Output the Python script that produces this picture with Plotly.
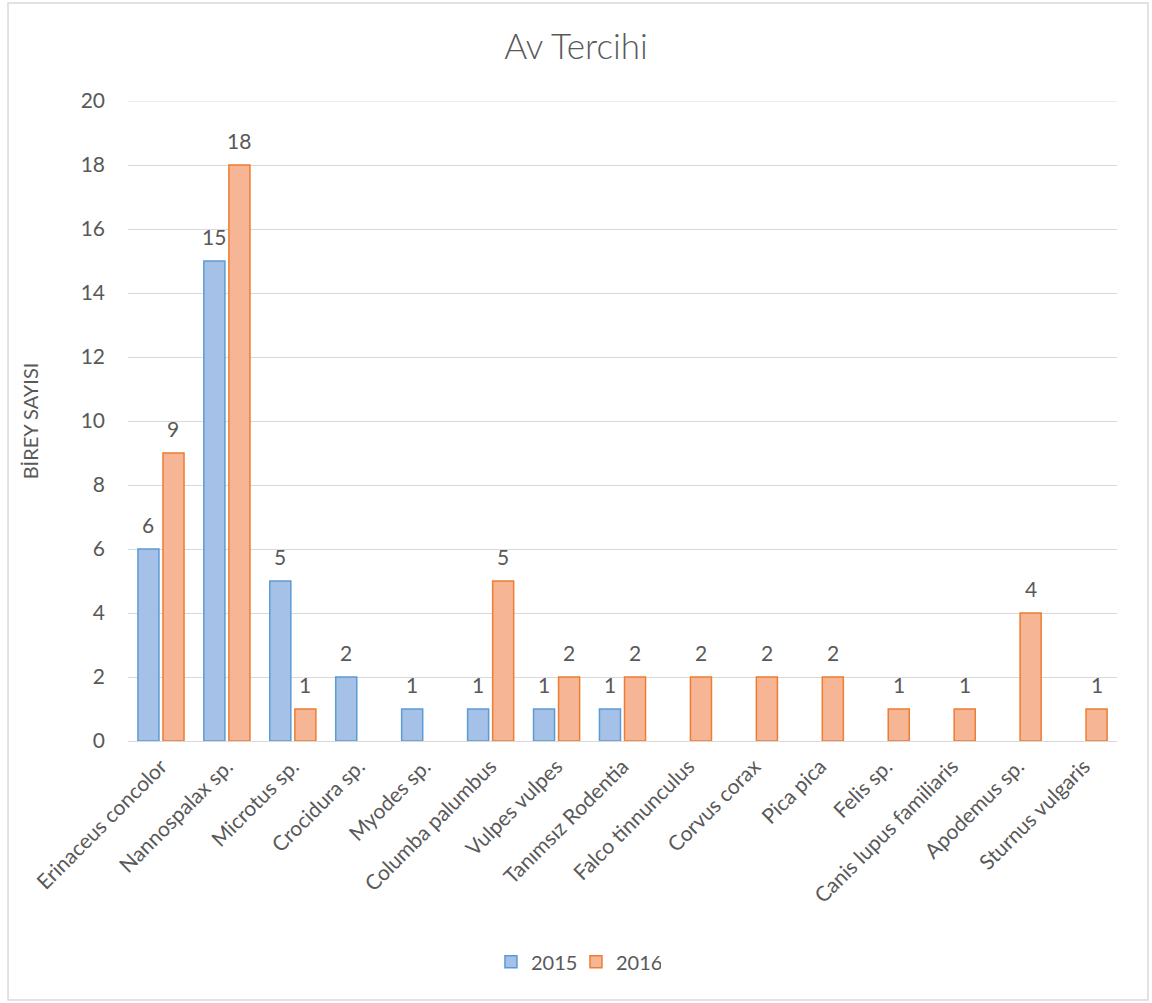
import plotly.graph_objects as go

categories = ["Erinaceus concolor", "Nannospalax sp.", "Microtus sp.", "Crocidura sp.",
              "Myodes sp.", "Columba palumbus", "Vulpes vulpes", "Tanımsız Rodentia",
              "Falco tinnunculus", "Corvus corax", "Pica pica", "Felis sp.",
              "Canis lupus familiaris", "Apodemus sp.", "Sturnus vulgaris"]
values_2015 = [6, 15, 5, 2, 1, 1, 1, 1, None, None, None, None, None, None, None]
values_2016 = [9, 18, 1, None, None, 5, 2, 2, 2, 2, 2, 1, 1, 4, 1]
y_ticks = [0, 2, 4, 6, 8, 10, 12, 14, 16, 18, 20]

FONT = "Lato"
GRAY = "#595959"
GRID = "#d9d9d9"

fig = go.Figure()
fig.add_trace(go.Bar(
    x=categories, y=values_2015, name="2015",
    marker=dict(color="#a6c1e7", line=dict(color="#5b9bd5", width=1.5)),
))
fig.add_trace(go.Bar(
    x=categories, y=values_2016, name="2016",
    marker=dict(color="#f6b696", line=dict(color="#ed7d31", width=1.5)),
))

# data labels above each bar
annotations = []
plot_w = 1152 - 128 - 35
bargap, bargroupgap = 0.24, 0.16
slot = plot_w / len(categories) * (1 - bargap) / 2
for series, shift in ((values_2015, -slot / 2), (values_2016, slot / 2)):
    for cat, v in zip(categories, series):
        if v is None:
            continue
        annotations.append(dict(
            x=cat, y=v, xref="x", yref="y", text=str(v), showarrow=False,
            xshift=shift, yshift=25, yanchor="middle", xanchor="center",
            font=dict(family=FONT, size=21, color=GRAY)))

fig.update_layout(
    width=1152, height=1003,
    margin=dict(l=128, r=35, t=101, b=262),
    paper_bgcolor="white", plot_bgcolor="white",
    barmode="group", bargap=bargap, bargroupgap=bargroupgap,
    title=dict(text="Av Tercihi", x=0.5, xanchor="center", y=0.953, yanchor="middle",
               font=dict(family=FONT, size=35, color=GRAY, weight=300)),
    font=dict(family=FONT, color=GRAY),
    legend=dict(orientation="h", x=0.367, xanchor="left", y=-0.345, yanchor="middle",
                font=dict(family=FONT, size=20, color=GRAY), traceorder="normal",
                entrywidth=40, entrywidthmode="pixels"),
    xaxis=dict(tickangle=-45, tickfont=dict(family=FONT, size=21, color=GRAY),
               showline=True, linecolor=GRID, linewidth=1, ticks="",
               ticklabelstandoff=4),
    yaxis=dict(range=[0, 20], tickvals=y_ticks, showgrid=True, gridcolor=GRID,
               gridwidth=1, zeroline=False, ticks="", ticklen=0,
               ticklabelstandoff=22,
               tickfont=dict(family=FONT, size=21, color=GRAY),
               title=dict(text="BİREY SAYISI", font=dict(family=FONT, size=20, color=GRAY),
                          standoff=36)),
    annotations=annotations,
    shapes=[
        dict(type="line", xref="paper", yref="y", x0=0, x1=1, y0=20, y1=20,
             line=dict(color=GRID, width=1), layer="below"),
        dict(type="rect", xref="paper", yref="paper",
             x0=-0.1213, x1=1.0313, y0=-0.4047, y1=1.153,
             line=dict(color=GRID, width=1.5), fillcolor="rgba(0,0,0,0)"),
    ],
)

fig.write_html("out.html")
